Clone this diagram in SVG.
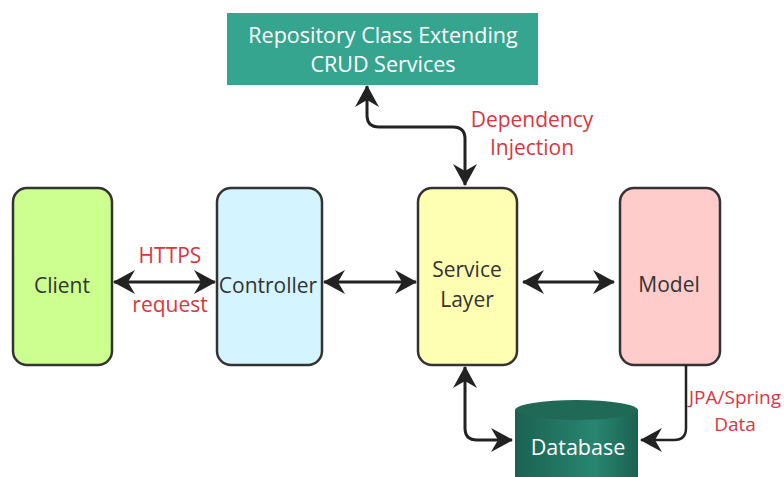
<svg xmlns="http://www.w3.org/2000/svg" width="784" height="477" viewBox="0 0 784 477">
<style>
.node{stroke:#333;stroke-width:2.5}
.lbl{font-family:"Open Sans","Liberation Sans",sans-serif;font-size:21px;fill:#333;text-anchor:middle}
.wlbl{font-family:"Open Sans","Liberation Sans",sans-serif;font-size:21.5px;fill:#fff;text-anchor:middle}
.red{font-family:"Open Sans","Liberation Sans",sans-serif;font-size:21px;fill:#d9363e;text-anchor:middle}
.con{fill:none;stroke:#222;stroke-width:3}
</style>
<defs>
<marker id="ah" viewBox="0 0 22 24" refX="21" refY="12" markerWidth="22" markerHeight="24" markerUnits="userSpaceOnUse" orient="auto-start-reverse">
<path d="M0,0 L22,12 L0,24 L7,12 Z" fill="#222"/>
</marker>
<linearGradient id="dbg" x1="0" y1="0" x2="1" y2="0">
<stop offset="0" stop-color="#1b6151"/>
<stop offset="0.65" stop-color="#288670"/>
<stop offset="1" stop-color="#1b6151"/>
</linearGradient>
</defs>
<rect width="784" height="477" fill="#fff"/>
<g id="repository">
<rect x="227" y="13" width="311" height="72" fill="#36a58f"/>
<text class="wlbl" x="383" y="43">Repository Class Extending</text>
<text class="wlbl" x="383" y="72">CRUD Services</text>
</g>
<g id="client">
<rect class="node" x="13" y="188" width="99" height="177" rx="14" fill="#ccff8f"/>
<text class="lbl" x="62" y="293">Client</text>
</g>
<g id="controller">
<rect class="node" x="217" y="188" width="105" height="177" rx="14" fill="#d4f5ff"/>
<text class="lbl" x="268" y="293">Controller</text>
</g>
<g id="service">
<rect class="node" x="418" y="188" width="99" height="177" rx="14" fill="#ffffb3"/>
<text class="lbl" x="467" y="277">Service</text>
<text class="lbl" x="467" y="307">Layer</text>
</g>
<g id="model">
<rect class="node" x="620" y="188" width="100" height="177" rx="14" fill="#ffcccc"/>
<text class="lbl" x="669" y="292">Model</text>
</g>
<g id="database">
<path d="M515,410 L515,480 L638,480 L638,410 Z" fill="url(#dbg)"/>
<ellipse cx="576.5" cy="410" rx="61.5" ry="10" fill="#216957"/>
<text class="wlbl" x="578" y="455">Database</text>
</g>
<g id="connectors">
<line class="con" x1="114" y1="282" x2="215" y2="282" marker-start="url(#ah)" marker-end="url(#ah)"/>
<line class="con" x1="324" y1="282" x2="416" y2="282" marker-start="url(#ah)" marker-end="url(#ah)"/>
<line class="con" x1="523" y1="282" x2="614" y2="282" marker-start="url(#ah)" marker-end="url(#ah)"/>
<path class="con" d="M367,86 L367,115 Q367,127 379,127 L453,127 Q465,127 465,139 L465,185" marker-start="url(#ah)" marker-end="url(#ah)"/>
<path class="con" d="M465,367 L465,428 Q465,440 477,440 L512,440" marker-start="url(#ah)" marker-end="url(#ah)"/>
<path d="M686,365 L686,428 Q686,440 674,440 L641,440" fill="none" stroke="#222" stroke-width="2.5" marker-end="url(#ah)"/>
<text class="red" x="532" y="127">Dependency</text>
<text class="red" x="532" y="155">Injection</text>
<text class="red" x="170" y="263">HTTPS</text>
<text class="red" x="170" y="312">request</text>
<text class="red" x="735" y="404" style="font-size:19px">JPA/Spring</text>
<text class="red" x="735" y="431" style="font-size:19px">Data</text>
</g>
</svg>
